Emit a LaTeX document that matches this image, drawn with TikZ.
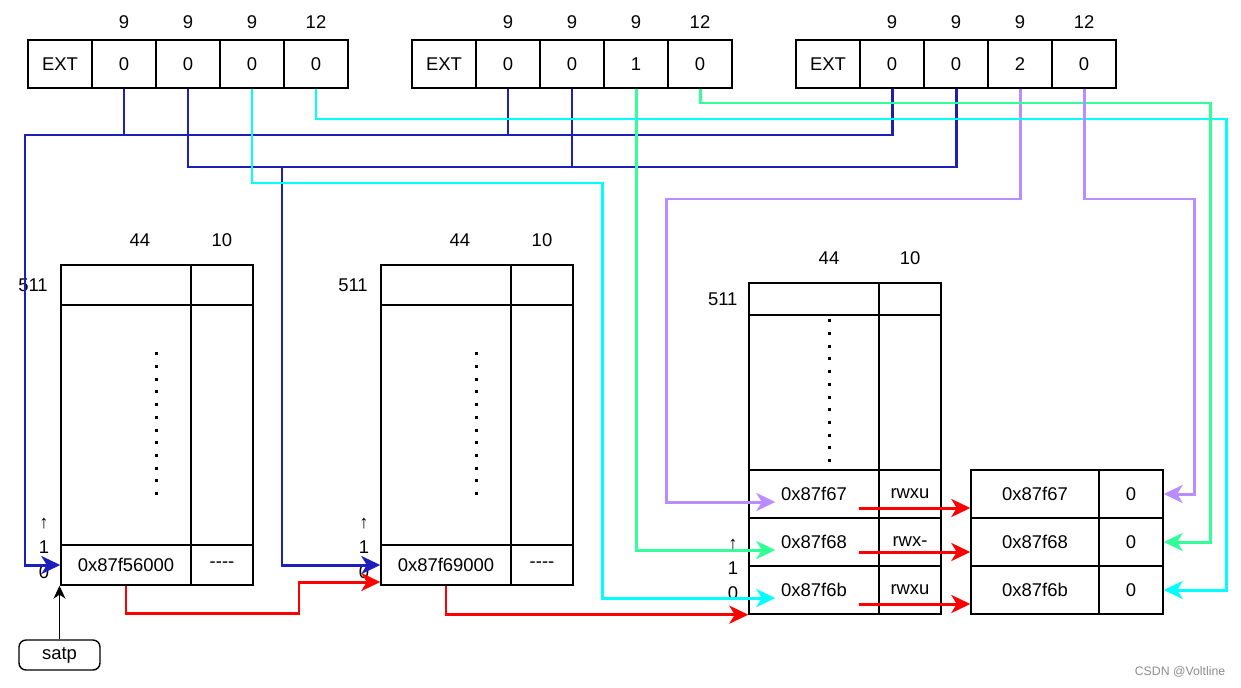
\documentclass[tikz,border=0pt]{standalone}
\usepackage{fontspec}
\setmainfont{Liberation Sans}[Ligatures=TeXOff]
\usetikzlibrary{arrows.meta,calc,positioning}

\definecolor{ptblue}{RGB}{28,32,184}
\definecolor{ptcyan}{RGB}{0,255,255}
\definecolor{ptgreen}{RGB}{51,255,153}
\definecolor{ptpurple}{RGB}{185,140,255}
\definecolor{ptred}{RGB}{255,0,0}

\begin{document}
\begin{tikzpicture}[x=0.02cm,y=-0.02cm]
\fontsize{10.5}{12}\selectfont
\tikzstyle{cell} = [draw, rectangle, line width=0.8pt, inner sep=0pt, minimum width=1.28cm, minimum height=0.96cm]
\tikzstyle{lcol} = [cell, minimum width=2.6cm]
\tikzstyle{rcol} = [cell, minimum width=1.24cm]
\tikzstyle{wire} = [line width=1.7pt]
\tikzstyle{arr} = [-{Stealth[length=0.38cm,width=0.36cm,inset=0.11cm]}]
\tikzstyle{dots} = [line width=0.06cm, dash pattern=on 0.06cm off 0.194cm]
\tikzstyle{idx} = [align=center, inner sep=0pt, font=\fontsize{10.5}{14.2}\selectfont]
\useasboundingbox (0,0) rectangle (1241,687);

% virtual addresses
\draw
(60,64) node [cell] (c10) {EXT}
(124,64) node [cell,label={[label distance=2.5pt]above:9}] (c11) {0}
(188,64) node [cell,label={[label distance=2.5pt]above:9}] (c12) {0}
(252,64) node [cell,label={[label distance=2.5pt]above:9}] (c13) {0}
(316,64) node [cell,label={[label distance=2.5pt]above:12}] (c14) {0}
(444,64) node [cell] (c20) {EXT}
(508,64) node [cell,label={[label distance=2.5pt]above:9}] (c21) {0}
(572,64) node [cell,label={[label distance=2.5pt]above:9}] (c22) {0}
(636,64) node [cell,label={[label distance=2.5pt]above:9}] (c23) {1}
(700,64) node [cell,label={[label distance=2.5pt]above:12}] (c24) {0}
(828,64) node [cell] (c30) {EXT}
(892,64) node [cell,label={[label distance=2.5pt]above:9}] (c31) {0}
(956,64) node [cell,label={[label distance=2.5pt]above:9}] (c32) {0}
(1020,64) node [cell,label={[label distance=2.5pt]above:9}] (c33) {2}
(1084,64) node [cell,label={[label distance=2.5pt]above:12}] (c34) {0};

% page tables
\draw
(126,285) node [lcol,minimum height=0.8cm,label={[label distance=3.5pt]left:511},label={[label distance=6.5pt,xshift=0.28cm]above:44}] (t1hi) {}
(222,285) node [rcol,minimum height=0.8cm,label={[label distance=6.5pt]above:10}] (t1hif) {}
(126,425) node [lcol,minimum height=4.8cm] (t1mid) {}
(222,425) node [rcol,minimum height=4.8cm] (t1midf) {}
(126,565) node [lcol,minimum height=0.8cm] (t1lo) {0x87f56000}
(222,565) node [rcol,minimum height=0.8cm] (t1lof) {----}
(446,285) node [lcol,minimum height=0.8cm,label={[label distance=3.5pt]left:511},label={[label distance=6.5pt,xshift=0.28cm]above:44}] (t2hi) {}
(542,285) node [rcol,minimum height=0.8cm,label={[label distance=6.5pt]above:10}] (t2hif) {}
(446,425) node [lcol,minimum height=4.8cm] (t2mid) {}
(542,425) node [rcol,minimum height=4.8cm] (t2midf) {}
(446,565) node [lcol,minimum height=0.8cm] (t2lo) {0x87f69000}
(542,565) node [rcol,minimum height=0.8cm] (t2lof) {----}
(814,299) node [lcol,minimum height=0.64cm,label={[label distance=2.5pt]left:511},label={[label distance=6.5pt,xshift=0.3cm]above:44}] (t3hi) {}
(910,299) node [rcol,minimum height=0.64cm,label={[label distance=6.5pt]above:10}] (t3hif) {}
(814,392.5) node [lcol,minimum height=3.1cm] (t3mid) {}
(910,392.5) node [rcol,minimum height=3.1cm] (t3midf) {}
(814,494) node [lcol] (t3r2) {0x87f67}
(910,494) node [rcol] (t3f2) {rwxu}
(814,542) node [lcol] (t3r1) {0x87f68}
(910,542) node [rcol] (t3f1) {rwx-}
(814,590) node [lcol] (t3r0) {0x87f6b}
(910,590) node [rcol] (t3f0) {rwxu}
(1035,494) node [cell,minimum width=2.56cm] (pg2) {0x87f67}
(1131,494) node [cell] (pg2f) {0}
(1035,542) node [cell,minimum width=2.56cm] (pg1) {0x87f68}
(1131,542) node [cell] (pg1f) {0}
(1035,590) node [cell,minimum width=2.56cm] (pg0) {0x87f6b}
(1131,590) node [cell] (pg0f) {0};

\draw[dots] ($(t1mid.north)+(30,48)$) -- ($(t1mid.south)+(30,-45)$);
\draw[dots] ($(t2mid.north)+(30,48)$) -- ($(t2mid.south)+(30,-45)$);
\draw[dots] ($(t3mid.north)+(15,5)$) -- ($(t3mid.south)+(15,-4)$);

\node [idx] (i1) at (44,548) {↑\\1\\0};
\node [idx] (i2) at (364,548) {↑\\1\\0};
\node [idx] (i3) at (733,569) {↑\\1\\0};

\node [draw, rounded corners=4pt, line width=0.8pt, minimum width=1.62cm, minimum height=0.6cm] (satp) at (59.5,655) {satp};
\node [text=black!45, font=\fontsize{7}{8}\selectfont] (wm) at (1180,672) {CSDN @Voltline};

\coordinate (b1) at (25,135);
\coordinate (b2) at (282,167);
\coordinate (cy1) at (602,183);
\coordinate (cy2) at (1226,119);
\coordinate (gr2) at (1210,103);
\coordinate (pu1) at (666,199);
\coordinate (pu2) at (1194,199);
\coordinate (rd1) at (299,613);
\coordinate (s2) at ($(t3r2.east)+(-21,14)$);
\coordinate (s1) at ($(t3r1.east)+(-21,10)$);
\coordinate (s0) at ($(t3r0.east)+(-21,14)$);

% level 2
\draw[wire,ptblue,arr] (c31.south) |- (b1) |- (t1lo.west);
\draw[wire,ptblue] (c11.south) -- (c11.south |- b1) (c21.south) -- (c21.south |- b1);
% level 1
\draw[wire,ptblue] (c12.south) |- (c32.south |- b2) -- (c32.south);
\draw[wire,ptblue] (c22.south) -- (c22.south |- b2);
\draw[wire,ptblue,arr] (b2) |- (t2lo.west);
% level 0
\draw[wire,ptcyan,arr] (c13.south) |- (cy1) |- ($(t3r0.west)+(27,8)$);
\draw[wire,ptgreen,arr] (c23.south) |- ($(t3r1.west)+(27,8)$);
\draw[wire,ptpurple,arr] (c33.south) |- (pu1) |- ($(t3r2.west)+(27,8)$);
% offsets
\draw[wire,ptcyan,arr] (c14.south) |- (cy2) |- (pg0f.east);
\draw[wire,ptgreen,arr] (c24.south) |- (gr2) |- (pg1f.east);
\draw[wire,ptpurple,arr] (c34.south) |- (pu2) |- (pg2f.east);

% next table
\draw[wire,ptred,arr] (t1lo.south) |- (rd1) |- ($(t2lo.west)+(0,17)$);
\draw[wire,ptred,arr] (t2lo.south) |- (t3r0.south west);
\draw[wire,ptred,arr] (s2) -- (s2 -| pg2.west);
\draw[wire,ptred,arr] (s1) -- (s1 -| pg1.west);
\draw[wire,ptred,arr] (s0) -- (s0 -| pg0.west);

\draw[line width=0.8pt,-{Stealth[length=0.26cm,width=0.24cm,inset=0.08cm]}] (satp.north) -- (satp.north |- t1lo.south);
\end{tikzpicture}
\end{document}
